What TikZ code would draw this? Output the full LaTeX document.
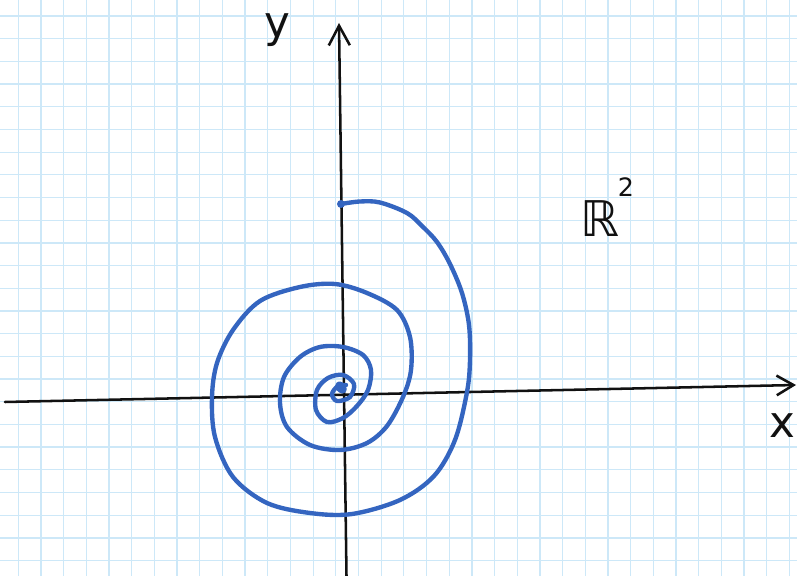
\documentclass[tikz,border=0pt]{standalone}
\usepackage{fontspec}
\usetikzlibrary{arrows.meta}
\newfontfamily\handfont{DejaVu Sans}
\definecolor{GridBlue}{HTML}{CDE8F8}
\definecolor{Ink}{HTML}{111111}
\definecolor{PenBlue}{HTML}{3465C0}
\tikzset{
  gridline/.style={draw=GridBlue, line width=0.9pt},
  axis/.style={draw=Ink, line width=1.8pt, line cap=round},
  spiral/.style={draw=PenBlue, line width=3.1pt, line cap=round, line join=round},
  handlabel/.style={text=Ink, inner sep=0pt}
}

\begin{document}
\begin{tikzpicture}[x=0.025cm,y=-0.025cm]
  \useasboundingbox (0,0) rectangle (797,576);
  \fill[white] (0,0) rectangle (797,576);
  % squared paper
  \foreach \i in {0,...,34}
    \draw[gridline] ({18.3+22.68*\i},0) -- ++(0,576);
  \foreach \j in {0,...,24}
    \draw[gridline] (0,{16+22.69*\j}) -- ++(797,0);
  % axes
  \coordinate (xfrom) at (5,402);
  \coordinate (xto) at (796,385);
  \coordinate (yfrom) at (346.5,576);
  \coordinate (yto) at (339,23);
  \draw[axis,-{Straight Barb[length=12pt,width=14pt]}] (xfrom) -- (xto);
  \draw[axis,-{Straight Barb[length=14pt,width=15pt]}] (yfrom) -- (yto);
  \node[handlabel,anchor=base,font=\handfont\fontsize{31}{34}\selectfont] (ylabel) at (277,38) {y};
  \node[handlabel,anchor=base east,font=\handfont\fontsize{31}{34}\selectfont] (xlabel) at (796,438) {x};
  \node[handlabel,anchor=base west,font=\handfont\fontsize{35}{38}\selectfont] (plane) at (580,237)
    {ℝ\kern-1pt\raisebox{0.82em}{\fontsize{18}{20}\selectfont 2}};
  % spiral into the origin
  \coordinate (spiralstart) at (341,204);
  \draw[spiral] plot[smooth,tension=0.55] coordinates {
    (341,204) (360,201.5) (380,202.5) (407,213) (422,226) (437,242) (450,264)
    (462,293) (469,325) (470,360) (467,392) (455,440) (434,476) (400,500)
    (352,514) (310,513) (267,503) (233,477) (215,437) (212,397) (217,363)
    (233,330) (260,301) (300,287) (335,284) (367,293) (397,310) (410,337)
    (411,370) (403,397) (387,426) (367,443) (340,450) (310,445) (287,427)
    (280,403) (284,377) (300,357) (320,347) (343,347) (363,355) (371,370)
    (368,390) (357,406) (343,418) (327,422) (316,410) (317,390) (328,378)
    (343,375) (354,384) (350,397) (337,401) (332,394) (338,386) (346,385)};
  \fill[PenBlue] (spiralstart) circle (4);
  \fill[PenBlue,rotate around={40:(341,387.5)}] (341,387.5) ellipse (5 and 6.5);
\end{tikzpicture}
\end{document}
